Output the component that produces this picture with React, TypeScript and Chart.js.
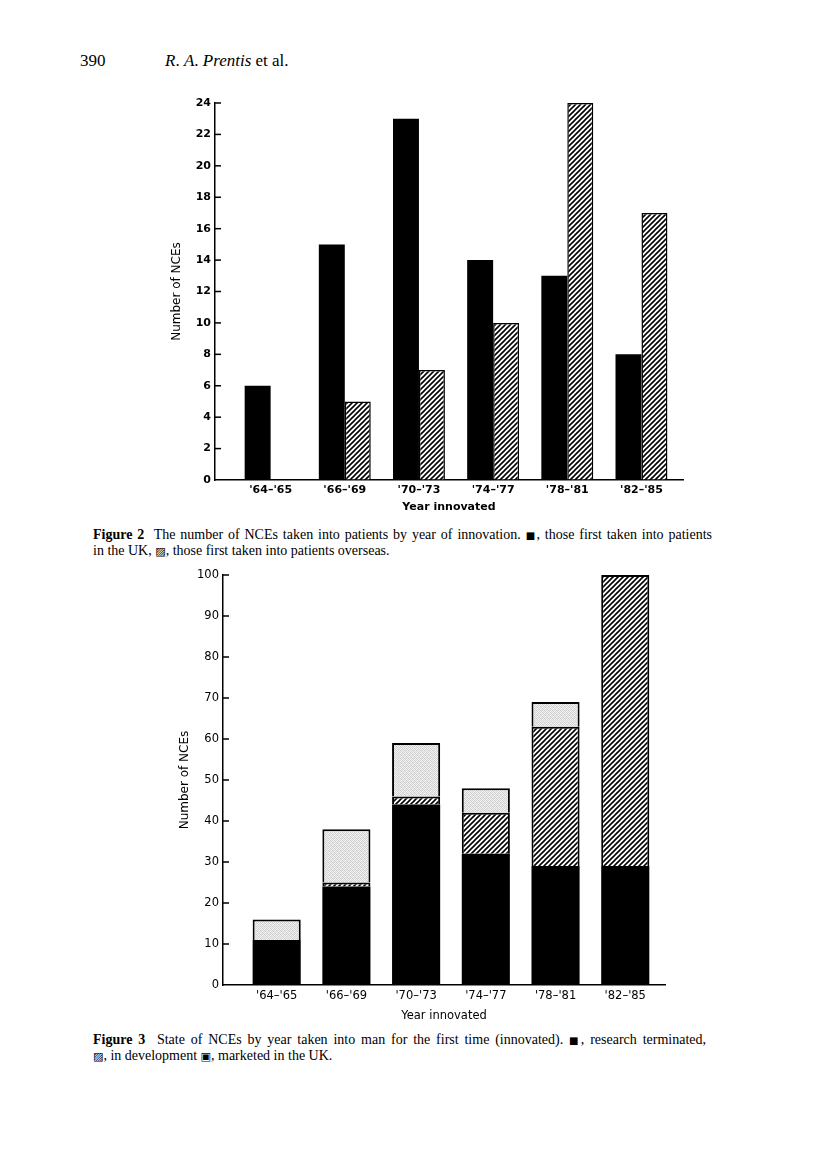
import React, { useEffect, useRef } from 'react';
import { Chart, registerables } from 'chart.js';

Chart.register(...registerables);

// ---------- data ----------
const CATEGORIES = ["'64–'65", "'66–'69", "'70–'73", "'74–'77", "'78–'81", "'82–'85"];

// Figure 2: NCEs taken into patients by year of innovation
const FIRST_IN_UK = [6, 15, 23, 14, 13, 8];
const FIRST_OVERSEAS = [0, 5, 7, 10, 24, 17];
const FIG2_Y_MAX = 24;
const FIG2_Y_STEP = 2;

// Figure 3: state of NCEs by year innovated (stacked)
const RESEARCH_TERMINATED = [11, 24, 44, 32, 29, 29];
const IN_DEVELOPMENT = [0, 1, 2, 10, 34, 71];
const MARKETED_UK = [5, 13, 13, 6, 6, 0];
const FIG3_Y_MAX = 100;
const FIG3_Y_STEP = 10;

const AXIS_TITLE_X = 'Year innovated';
const AXIS_TITLE_Y = 'Number of NCEs';

// ---------- helpers ----------
function makeHatch(): CanvasPattern | string {
  const s = 5;
  const c = document.createElement('canvas');
  c.width = s;
  c.height = s;
  const g = c.getContext('2d');
  if (!g) return '#888';
  g.fillStyle = '#fff';
  g.fillRect(0, 0, s, s);
  g.strokeStyle = '#000';
  g.lineWidth = 1.6;
  g.beginPath();
  g.moveTo(0, s);
  g.lineTo(s, 0);
  g.moveTo(-1, 1);
  g.lineTo(1, -1);
  g.moveTo(s - 1, s + 1);
  g.lineTo(s + 1, s - 1);
  g.stroke();
  return g.createPattern(c, 'repeat') || '#888';
}

function makeStipple(): CanvasPattern | string {
  const tile = [
    ['#cfcfcf', '#ececec', '#d8d8d8', '#f2f2f2'],
    ['#e8e8e8', '#d2d2d2', '#f4f4f4', '#dcdcdc'],
    ['#d6d6d6', '#f0f0f0', '#cccccc', '#e8e8e8'],
    ['#f2f2f2', '#dcdcdc', '#eeeeee', '#d0d0d0'],
  ];
  const c = document.createElement('canvas');
  c.width = 4;
  c.height = 4;
  const g = c.getContext('2d');
  if (!g) return '#ddd';
  tile.forEach((row, y) =>
    row.forEach((col, x) => {
      g.fillStyle = col;
      g.fillRect(x, y, 1, 1);
    })
  );
  return g.createPattern(c, 'repeat') || '#ddd';
}

const inwardTicks = {
  id: 'inwardTicks',
  afterDraw(chart: any) {
    const { ctx, chartArea, scales } = chart;
    const y = scales.y;
    ctx.save();
    ctx.strokeStyle = '#000';
    ctx.lineWidth = 1.5;
    y.ticks.forEach((_t: any, i: number) => {
      if (i === 0) return;
      const py = y.getPixelForTick(i);
      ctx.beginPath();
      ctx.moveTo(chartArea.left, py);
      ctx.lineTo(chartArea.left + 6, py);
      ctx.stroke();
    });
    ctx.restore();
  },
};

function xScale(min: number, max: number, height: number, font: any, titleFont: any, titlePad: number, stacked: boolean) {
  return {
    type: 'linear' as const,
    min,
    max,
    offset: false,
    stacked,
    afterBuildTicks: (s: any) => {
      s.ticks = CATEGORIES.map((_, i) => ({ value: i }));
    },
    afterFit: (s: any) => {
      s.height = height;
    },
    grid: { display: true, drawOnChartArea: false, drawTicks: false },
    border: { display: true, color: '#000', width: 1.5 },
    ticks: {
      autoSkip: false,
      maxRotation: 0,
      padding: 4,
      color: '#000',
      font,
      callback: (v: any) => CATEGORIES[Number(v)] ?? '',
    },
    title: {
      display: true,
      text: AXIS_TITLE_X,
      color: '#000',
      font: titleFont,
      padding: { top: 0, bottom: titlePad },
    },
  };
}

function yScale(max: number, step: number, width: number, font: any, titleFont: any, titlePad: number, stacked: boolean) {
  return {
    min: 0,
    max,
    stacked,
    afterFit: (s: any) => {
      s.width = width;
    },
    grid: { display: true, drawOnChartArea: false, drawTicks: false },
    border: { display: true, color: '#000', width: 1.5 },
    ticks: { stepSize: step, padding: 4, color: '#000', font },
    title: {
      display: true,
      text: AXIS_TITLE_Y,
      color: '#000',
      font: titleFont,
      padding: { top: titlePad, bottom: 0 },
    },
  };
}

const toXY = (arr: number[]) => arr.map((y, i) => ({ x: i, y }));

export default function App() {
  const c1 = useRef<HTMLCanvasElement>(null);
  const c2 = useRef<HTMLCanvasElement>(null);

  useEffect(() => {
    document.body.style.margin = '0';
    const hatch = makeHatch();
    const stipple = makeStipple();

    const chart1 = new Chart(c1.current as HTMLCanvasElement, {
      type: 'bar',
      data: {
        datasets: [
          {
            label: 'First taken into patients in the UK',
            data: toXY(FIRST_IN_UK),
            backgroundColor: '#000',
            borderWidth: 0,
            categoryPercentage: 0.7,
            barPercentage: 1.0,
          },
          {
            label: 'First taken into patients overseas',
            data: toXY(FIRST_OVERSEAS),
            backgroundColor: hatch as any,
            borderColor: '#000',
            borderWidth: 1.5,
            categoryPercentage: 0.7,
            barPercentage: 1.0,
          },
        ],
      },
      options: {
        animation: false,
        responsive: false,
        devicePixelRatio: 1,
        layout: { padding: { top: 13, right: 17, bottom: 0, left: 0 } },
        plugins: { legend: { display: false }, tooltip: { enabled: false } },
        scales: {
          x: xScale(
            -0.75,
            5.56,
            40,
            { family: 'DejaVu Sans', size: 11, weight: 'bold' },
            { family: 'DejaVu Sans', size: 11, weight: 'bold' },
            6,
            false
          ) as any,
          y: yScale(
            FIG2_Y_MAX,
            FIG2_Y_STEP,
            85,
            { family: 'DejaVu Sans', size: 11, weight: 'bold' },
            { family: 'DejaVu Sans', size: 12 },
            40,
            false
          ) as any,
        },
      },
      plugins: [inwardTicks],
    });

    const chart2 = new Chart(c2.current as HTMLCanvasElement, {
      type: 'bar',
      data: {
        datasets: [
          {
            label: 'Research terminated',
            data: toXY(RESEARCH_TERMINATED),
            backgroundColor: '#000',
            borderWidth: 0,
            barPercentage: 0.69,
            categoryPercentage: 1.0,
          },
          {
            label: 'In development',
            data: toXY(IN_DEVELOPMENT),
            backgroundColor: hatch as any,
            borderColor: '#000',
            borderWidth: 2,
            barPercentage: 0.69,
            categoryPercentage: 1.0,
          },
          {
            label: 'Marketed in the UK',
            data: toXY(MARKETED_UK),
            backgroundColor: stipple as any,
            borderColor: '#000',
            borderWidth: 2,
            barPercentage: 0.69,
            categoryPercentage: 1.0,
          },
        ],
      },
      options: {
        animation: false,
        responsive: false,
        devicePixelRatio: 1,
        layout: { padding: { top: 15, right: 25, bottom: 0, left: 0 } },
        plugins: { legend: { display: false }, tooltip: { enabled: false } },
        scales: {
          x: xScale(
            -0.77,
            5.57,
            45,
            { family: 'DejaVu Sans', size: 11.5 },
            { family: 'DejaVu Sans', size: 11.5 },
            7,
            true
          ) as any,
          y: yScale(
            FIG3_Y_MAX,
            FIG3_Y_STEP,
            93,
            { family: 'DejaVu Sans', size: 11.5 },
            { family: 'DejaVu Sans', size: 12 },
            48,
            true
          ) as any,
        },
      },
      plugins: [inwardTicks],
    });

    return () => {
      chart1.destroy();
      chart2.destroy();
    };
  }, []);

  const serif = '"Liberation Serif", "Times New Roman", serif';
  const sym = '"DejaVu Sans", sans-serif';

  return (
    <div
      style={{
        position: 'absolute',
        left: 0,
        top: 0,
        width: 816,
        height: 1173,
        background: '#fff',
        color: '#000',
        fontFamily: serif,
        overflow: 'hidden',
      }}
    >
      <div style={{ position: 'absolute', left: 80, top: 51, fontSize: 17, lineHeight: '20px' }}>390</div>
      <div style={{ position: 'absolute', left: 165, top: 51, fontSize: 17, lineHeight: '20px' }}>
        <i>R</i>. <i>A</i>. <i>Prentis</i> et al.
      </div>

      <canvas
        ref={c1}
        width={570}
        height={430}
        style={{ position: 'absolute', left: 130, top: 90, width: 570, height: 430 }}
      />

      <div style={{ position: 'absolute', left: 93, top: 527, width: 619, fontSize: 14, lineHeight: '15px' }}>
        <div style={{ textAlign: 'justify', textAlignLast: 'justify', whiteSpace: 'nowrap' }}>
          <b>Figure 2</b>&nbsp; The number of NCEs taken into patients by year of innovation.{' '}
          <span style={{ fontFamily: sym, fontSize: 10 }}>■</span>, those first taken into patients
        </div>
        <div>
          in the UK, <span style={{ fontFamily: sym, fontSize: 11 }}>▨</span>, those first taken into patients overseas.
        </div>
      </div>

      <canvas
        ref={c2}
        width={560}
        height={470}
        style={{ position: 'absolute', left: 130, top: 560, width: 560, height: 470 }}
      />

      <div style={{ position: 'absolute', left: 93, top: 1032, width: 613, fontSize: 14, lineHeight: '15px' }}>
        <div style={{ textAlign: 'justify', textAlignLast: 'justify', whiteSpace: 'nowrap' }}>
          <b>Figure 3</b>&nbsp; State of NCEs by year taken into man for the first time (innovated).{' '}
          <span style={{ fontFamily: sym, fontSize: 10 }}>■</span>, research terminated,
        </div>
        <div>
          <span style={{ fontFamily: sym, fontSize: 11 }}>▨</span>, in development{' '}
          <span style={{ fontFamily: sym, fontSize: 11 }}>▣</span>, marketed in the UK.
        </div>
      </div>
    </div>
  );
}
